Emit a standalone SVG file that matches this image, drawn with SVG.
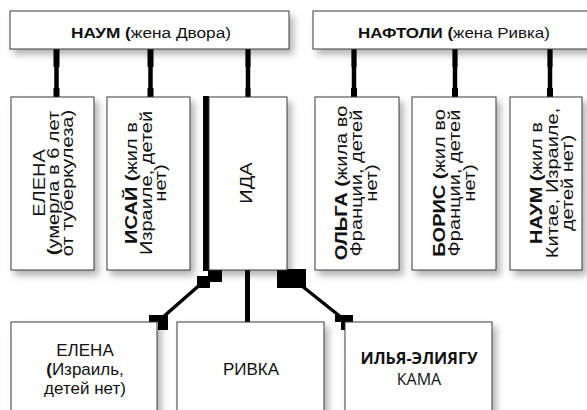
<svg xmlns="http://www.w3.org/2000/svg" width="587" height="410" viewBox="0 0 587 410">
<defs>
<filter id="sh" x="-20%" y="-20%" width="150%" height="150%">
<feDropShadow dx="4" dy="5" stdDeviation="3.5" flood-color="#000" flood-opacity="0.3"/>
</filter>
<style>
.box{fill:#fff;stroke:#3a3a3a;stroke-width:1;filter:url(#sh)}
.t{font-family:"Liberation Sans",Arial,sans-serif;fill:#111;text-anchor:middle}
.r{font-size:16px}
.h{font-size:15px}
.m{font-size:17px}
.o{font-family:"Open Sans","Liberation Sans",sans-serif;font-size:16px;fill:#111;text-anchor:middle}
.b{font-weight:bold}
.ln{stroke:#000;fill:none}
.k{fill:#000}
</style>
</defs>
<g id="connectors">
<g class="ln" stroke-width="4.5">
<line x1="56.5" y1="49" x2="56.5" y2="97"/>
<line x1="150.5" y1="49" x2="150.5" y2="97"/>
<line x1="248" y1="49" x2="248" y2="97"/>
<line x1="354" y1="49" x2="354" y2="97"/>
<line x1="455" y1="49" x2="455" y2="97"/>
<line x1="550" y1="49" x2="550" y2="97"/>
</g>
<g class="k">
<rect x="53.5" y="49" width="6" height="18"/><rect x="53.5" y="88" width="6" height="9"/>
<rect x="147.5" y="49" width="6" height="18"/><rect x="147.5" y="88" width="6" height="9"/>
<rect x="245.5" y="49" width="5" height="18"/><rect x="245.5" y="88" width="5" height="9"/>
<rect x="351.5" y="49" width="5" height="18"/><rect x="351" y="88" width="6" height="9"/>
<rect x="452.5" y="49" width="5" height="18"/><rect x="452" y="88" width="6" height="9"/>
<rect x="547.5" y="49" width="5" height="18"/><rect x="547" y="88" width="6" height="9"/>
<rect x="203" y="96" width="6" height="175"/>
<rect x="208" y="270" width="14" height="12"/>
<rect x="197" y="276" width="13" height="12"/>
<rect x="149" y="315" width="19" height="7"/>
<rect x="158" y="315" width="10" height="15"/>
<rect x="245" y="270" width="5" height="52"/>
<rect x="277" y="269" width="29" height="19"/>
<rect x="335" y="315" width="18" height="7"/>
<rect x="341" y="321" width="4" height="9"/>
</g>
<line class="ln" stroke-width="3.5" x1="203" y1="282" x2="162" y2="318"/>
<line class="ln" stroke-width="3.5" x1="302" y1="286" x2="342" y2="318"/>
</g>
<g id="naum-top">
<rect class="box" x="10" y="11" width="279" height="38"/>
<text class="t h" transform="translate(151,38) scale(1.15,1)"><tspan class="b">НАУМ (</tspan>жена Двора)</text>
</g>
<g id="naftoli-top">
<rect class="box" x="313" y="11" width="290" height="38"/>
<text class="t h" transform="translate(454,38) scale(1.13,1)"><tspan class="b">НАФТОЛИ (</tspan>жена Ривка)</text>
</g>
<g id="elena-1">
<rect class="box" x="11" y="97" width="83" height="173"/>
<g class="t r" transform="translate(52.5,183) rotate(-90) scale(1.25,1)">
<text y="-7.5">ЕЛЕНА</text>
<text y="6.5"><tspan class="b">(</tspan>умерла в 6 лет</text>
<text y="20.5">от туберкулеза)</text>
</g>
</g>
<g id="isai">
<rect class="box" x="107" y="97" width="83" height="173"/>
<g class="t r" transform="translate(148.5,183) rotate(-90) scale(1.25,1)">
<text y="-11.5"><tspan class="b">ИСАЙ (</tspan>жил в</text>
<text y="3">Израиле, детей</text>
<text y="17.5">нет)</text>
</g>
</g>
<g id="ida">
<rect class="box" x="209" y="97" width="78" height="173"/>
<g class="t r" transform="translate(248,183) rotate(-90) scale(1.25,1)">
<text y="4">ИДА</text>
</g>
</g>
<g id="olga">
<rect class="box" x="315" y="97" width="84" height="173"/>
<g class="t r" transform="translate(357,183) rotate(-90) scale(1.25,1)">
<text y="-10"><tspan class="b">ОЛЬГА (</tspan>жила во</text>
<text y="5">Франции, детей</text>
<text y="20.5">нет)</text>
</g>
</g>
<g id="boris">
<rect class="box" x="412" y="97" width="84" height="173"/>
<g class="t r" transform="translate(454,183) rotate(-90) scale(1.25,1)">
<text y="-9"><tspan class="b">БОРИС (</tspan>жил во</text>
<text y="6">Франции, детей</text>
<text y="21.5">нет)</text>
</g>
</g>
<g id="naum-2">
<rect class="box" x="510" y="97" width="72" height="173"/>
<g class="t r" transform="translate(546,183) rotate(-90) scale(1.25,1)">
<text y="-4"><tspan class="b">НАУМ (</tspan>жил в</text>
<text y="11.5">Китае, Израиле,</text>
<text y="27">детей нет)</text>
</g>
</g>
<g id="elena-2">
<rect class="box" x="11" y="322" width="146" height="100"/>
<text class="t m" x="85" y="356">ЕЛЕНА</text>
<text class="t m" x="85" y="375"><tspan class="b">(</tspan>Израиль,</text>
<text class="t m" x="85" y="394">детей нет)</text>
</g>
<g id="rivka">
<rect class="box" x="177" y="322" width="147" height="100"/>
<text class="t m" x="251" y="375">РИВКА</text>
</g>
<g id="ilya">
<rect class="box" x="345" y="322" width="147" height="100"/>
<text class="o b" x="419" y="364">ИЛЬЯ-ЭЛИЯГУ</text>
<text class="o" x="419" y="385">КАМА</text>
</g>
</svg>
